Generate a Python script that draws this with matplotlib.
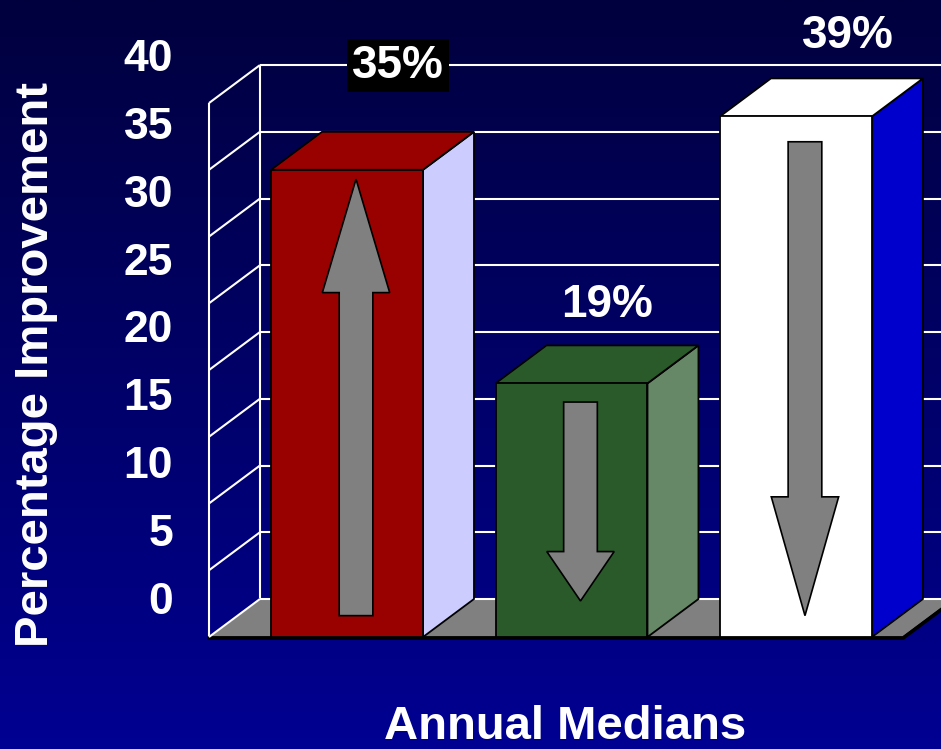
import numpy as np
import matplotlib.pyplot as plt
from matplotlib.patches import Polygon
from matplotlib.colors import LinearSegmentedColormap

# bar data
values = [35, 19, 39]
value_labels = ['35%', '19%', '39%']
front_colors = ['#990000', '#2a5a2a', '#ffffff']
side_colors = ['#ccccff', '#668866', '#0000cc']
y_ticks = [0, 5, 10, 15, 20, 25, 30, 35, 40]

# trend arrows drawn on each bar (tail value, tip value, head length)
arrow_tail = [1.6, 17.6, 37.1]
arrow_tip = [34.3, 2.7, 1.6]
arrow_head = [8.5, 3.7, 8.9]

plt.rcParams['font.family'] = ['Liberation Sans', 'DejaVu Sans']
plt.rcParams['font.weight'] = 'bold'

fig = plt.figure(figsize=(9.41, 7.49), dpi=100)
ax = fig.add_axes([0, 0, 1, 1])
x0, x1 = -1.546, 2.646
y0, y1 = -8.39, 47.72
ax.set_xlim(x0, x1)
ax.set_ylim(y0, y1)
ax.axis('off')

# navy gradient background
bg = LinearSegmentedColormap.from_list('bg', ['#00003e', '#000092'])
grad = np.linspace(0, 1, 256)[:, None]
ax.imshow(grad, extent=[x0, x1, y0, y1], aspect='auto', cmap=bg,
          origin='upper', zorder=0)

# 3d depth offset
ddx, ddy = 0.227, 2.846
bw = 0.677
xf = -0.615          # front-left corner of the floor
xb = xf + ddx        # back-left corner
xr = 2.477           # front-right corner of the floor
ymax = y_ticks[-1]

wall = dict(color='white', lw=1.5, solid_capstyle='butt')

# back wall gridlines and left wall
for t in y_ticks[1:]:
    ax.plot([xb, x1 + 0.2], [t + ddy, t + ddy], zorder=1, **wall)
    ax.plot([xf, xb], [t, t + ddy], zorder=1, **wall)
ax.plot([xf, xf], [0, ymax], zorder=1, **wall)
ax.plot([xb, xb], [ddy, ymax + ddy], zorder=1, **wall)

# floor
floor = Polygon([(xf, 0), (xr, 0), (xr + ddx, ddy), (xb, ddy)],
                closed=True, fc='#808080', ec='black', lw=1.0, zorder=2)
ax.add_patch(floor)
ax.plot([xf, xr, xr + ddx], [-0.08, -0.08, ddy - 0.08], color='black',
        lw=2.6, zorder=2)
ax.plot([xb, x1 + 0.2], [ddy, ddy], zorder=2.5, **wall)
ax.plot([xf, xb], [0, ddy], zorder=2.5, **wall)

# bars
for i, v in enumerate(values):
    l, r = i - bw / 2, i + bw / 2
    front = [(l, 0), (r, 0), (r, v), (l, v)]
    top = [(l, v), (r, v), (r + ddx, v + ddy), (l + ddx, v + ddy)]
    side = [(r, 0), (r + ddx, ddy), (r + ddx, v + ddy), (r, v)]
    for pts, fc in ((side, side_colors[i]), (top, front_colors[i]),
                    (front, front_colors[i])):
        ax.add_patch(Polygon(pts, closed=True, fc=fc, ec='black', lw=1.3,
                             zorder=3))

    # arrow
    cx = i + 0.04
    sw, hw = 0.075, 0.15
    tail, tip, h = arrow_tail[i], arrow_tip[i], arrow_head[i]
    d = np.sign(tip - tail)
    base = tip - d * h
    arrow = [(cx - sw, tail), (cx + sw, tail), (cx + sw, base), (cx + hw, base),
             (cx, tip), (cx - hw, base), (cx - sw, base)]
    ax.add_patch(Polygon(arrow, closed=True, fc='#808080', ec='black', lw=1.2,
                         zorder=4))

# value labels
label_dx = [0.227, 0.16, 0.232]
label_dy = [7.8, 5.9, 6.0]
for i, (v, s) in enumerate(zip(values, value_labels)):
    box = dict(boxstyle='square,pad=0.1', fc='black', ec='none') if i == 0 else None
    ax.text(i + label_dx[i], v + label_dy[i], s, color='white', fontsize=33,
            fontweight='bold', ha='center', va='center', bbox=box, zorder=5)

# tick labels
for t in y_ticks:
    ax.text(-0.775, 2.55 + 1.0187 * t, str(t), color='white', fontsize=32,
            fontweight='bold', ha='right', va='center', zorder=5)

ax.text(-1.385, 20.4, 'Percentage Improvement', color='white', fontsize=34,
        fontweight='bold', rotation=90, ha='center', va='center')
ax.text(0.971, -6.74, 'Annual Medians', color='white', fontsize=34,
        fontweight='bold', ha='center', va='center')

fig.savefig('out.png', dpi=100)
